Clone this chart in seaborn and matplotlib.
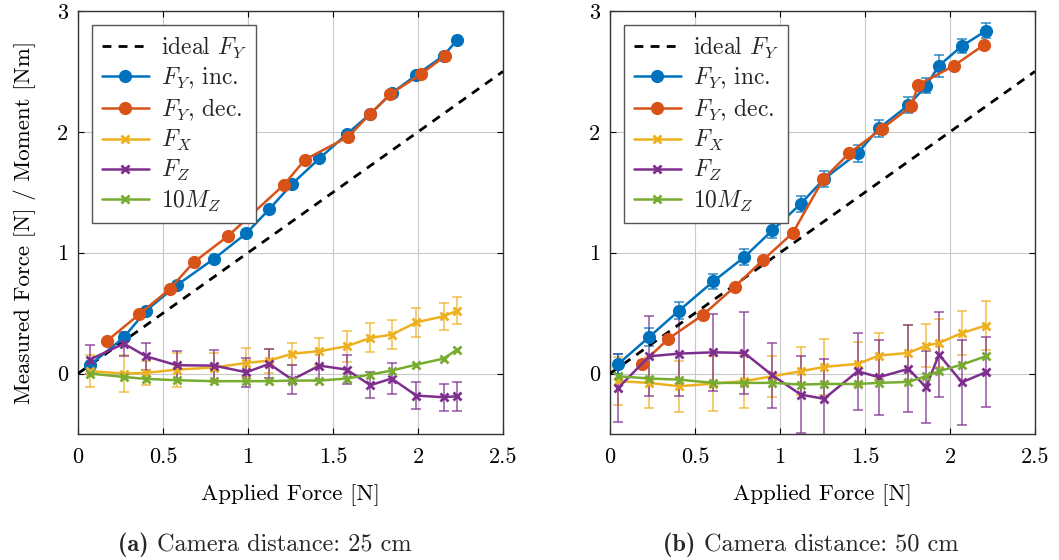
import numpy as np
import pandas as pd
import matplotlib
matplotlib.use("Agg")
import matplotlib.pyplot as plt
import seaborn as sns

# ---------------- data ----------------
# Panel (a): camera distance 25 cm
a_x = [0.07, 0.27, 0.40, 0.58, 0.80, 0.99, 1.125, 1.26, 1.42, 1.58, 1.72, 1.845, 1.99, 2.15, 2.23]
a_fy_inc = [0.07, 0.30, 0.52, 0.73, 0.95, 1.16, 1.36, 1.57, 1.78, 1.98, 2.15, 2.32, 2.47, 2.63, 2.76]
a_dec_x = [0.17, 0.36, 0.54, 0.68, 0.88, 1.21, 1.335, 1.59, 1.72, 1.835, 2.02, 2.16]
a_fy_dec = [0.27, 0.49, 0.70, 0.92, 1.135, 1.56, 1.77, 1.96, 2.15, 2.31, 2.48, 2.63]
a_fx = [0.02, 0.00, 0.005, 0.033, 0.05, 0.088, 0.107, 0.165, 0.185, 0.226, 0.295, 0.322, 0.424, 0.474, 0.52]
a_fx_err = [0.13, 0.15, 0.10, 0.14, 0.12, 0.12, 0.10, 0.09, 0.11, 0.13, 0.12, 0.12, 0.12, 0.11, 0.11]
a_fz = [0.116, 0.248, 0.143, 0.069, 0.066, 0.011, 0.08, -0.05, 0.066, 0.033, -0.096, -0.041, -0.182, -0.196, -0.187]
a_fz_err = [0.12, 0.10, 0.11, 0.12, 0.13, 0.12, 0.12, 0.12, 0.12, 0.12, 0.11, 0.13, 0.11, 0.11, 0.12]
a_mz = [0.0, -0.028, -0.044, -0.055, -0.063, -0.063, -0.063, -0.058, -0.058, -0.041, -0.008, 0.025, 0.074, 0.124, 0.198]

# Panel (b): camera distance 50 cm
b_x = [0.049, 0.231, 0.406, 0.608, 0.79, 0.955, 1.122, 1.259, 1.457, 1.582, 1.755, 1.859, 1.935, 2.07, 2.21]
b_fy_inc = [0.08, 0.303, 0.521, 0.763, 0.964, 1.185, 1.405, 1.61, 1.824, 2.03, 2.22, 2.38, 2.548, 2.71, 2.835]
b_fy_inc_err = [0.08, 0.072, 0.073, 0.063, 0.065, 0.065, 0.065, 0.065, 0.07, 0.069, 0.066, 0.062, 0.09, 0.058, 0.062]
b_dec_x = [0.186, 0.343, 0.549, 0.735, 0.902, 1.075, 1.255, 1.408, 1.598, 1.771, 1.814, 2.024, 2.20]
b_fy_dec = [0.08, 0.287, 0.488, 0.72, 0.942, 1.163, 1.61, 1.824, 2.025, 2.21, 2.39, 2.548, 2.72]
b_fx = [-0.063, -0.077, -0.105, -0.083, -0.063, -0.022, 0.019, 0.055, 0.08, 0.149, 0.171, 0.231, 0.253, 0.336, 0.397]
b_fx_err = [0.20, 0.21, 0.21, 0.23, 0.22, 0.17, 0.20, 0.23, 0.18, 0.19, 0.23, 0.18, 0.20, 0.18, 0.20]
b_fz = [-0.118, 0.143, 0.165, 0.176, 0.171, -0.014, -0.174, -0.209, 0.019, -0.03, 0.039, -0.113, 0.157, -0.072, 0.011]
b_fz_err = [0.28, 0.33, 0.35, 0.32, 0.34, 0.27, 0.32, 0.33, 0.32, 0.31, 0.36, 0.30, 0.35, 0.35, 0.29]
b_mz = [-0.022, -0.041, -0.05, -0.077, -0.077, -0.077, -0.091, -0.086, -0.086, -0.077, -0.069, -0.022, 0.019, 0.074, 0.143]

ideal_x = [0.0, 2.5]
ideal_y = [0.0, 2.5]

x_ticks = [0, 0.5, 1, 1.5, 2, 2.5]
x_tick_labels = ["0", "0.5", "1", "1.5", "2", "2.5"]
y_ticks = [0, 1, 2, 3]
y_tick_labels = ["0", "1", "2", "3"]

captions = [("(a)", "Camera distance: 25 cm"), ("(b)", "Camera distance: 50 cm")]

# ---------------- style ----------------
sns.set_theme(style="whitegrid")
plt.rcParams["font.family"] = ["cmr10", "DejaVu Serif"]
plt.rcParams["mathtext.fontset"] = "cm"
plt.rcParams["axes.unicode_minus"] = False
plt.rcParams["axes.formatter.use_mathtext"] = True

C_BLUE = "#0072BD"
C_ORANGE = "#D95319"
C_YELLOW = "#EDB120"
C_PURPLE = "#7E2F8E"
C_GREEN = "#77AC30"
FS_TICK = 16
FS_LAB = 16.5
FS_LEG = 17
FS_CAP = 17.5

fig = plt.figure(figsize=(10.59, 5.60), dpi=100)
W, H = 1059, 560
ax_a = fig.add_axes([78 / W, (560 - 434) / H, 425 / W, 423 / H])
ax_b = fig.add_axes([610 / W, (560 - 434) / H, 425 / W, 423 / H])

panels = [
    dict(ax=ax_a, x=a_x, inc=a_fy_inc, inc_err=None, dx=a_dec_x, dec=a_fy_dec,
         fx=a_fx, fx_err=a_fx_err, fz=a_fz, fz_err=a_fz_err, mz=a_mz),
    dict(ax=ax_b, x=b_x, inc=b_fy_inc, inc_err=b_fy_inc_err, dx=b_dec_x, dec=b_fy_dec,
         fx=b_fx, fx_err=b_fx_err, fz=b_fz, fz_err=b_fz_err, mz=b_mz),
]

for i, p in enumerate(panels):
    ax = p["ax"]
    eb_kw = dict(fmt="none", capsize=3.5, elinewidth=1.2, capthick=1.2, alpha=0.75, zorder=2)
    ax.errorbar(p["x"], p["fx"], yerr=p["fx_err"], ecolor=C_YELLOW, **eb_kw)
    ax.errorbar(p["x"], p["fz"], yerr=p["fz_err"], ecolor=C_PURPLE, **eb_kw)
    if p["inc_err"] is not None:
        ax.errorbar(p["x"], p["inc"], yerr=p["inc_err"], ecolor=C_BLUE, **eb_kw)

    sns.lineplot(x=ideal_x, y=ideal_y, ax=ax, color="black", linestyle=(0, (3.2, 2.6)),
                 linewidth=2.0, label=r"ideal $F_Y$", zorder=3)
    circ = dict(marker="o", markersize=9.5, markeredgewidth=0, linewidth=1.8, sort=False, zorder=4)
    sns.lineplot(x=p["x"], y=p["inc"], ax=ax, color=C_BLUE, markeredgecolor=C_BLUE,
                 label=r"$F_Y$, inc.", **circ)
    sns.lineplot(x=p["dx"], y=p["dec"], ax=ax, color=C_ORANGE, markeredgecolor=C_ORANGE,
                 label=r"$F_Y$, dec.", **circ)
    cross = dict(marker="x", markersize=6, markeredgewidth=2.0, linewidth=1.8, sort=False, zorder=5)
    sns.lineplot(x=p["x"], y=p["fx"], ax=ax, color=C_YELLOW, markeredgecolor=C_YELLOW,
                 label=r"$F_X$", **cross)
    sns.lineplot(x=p["x"], y=p["fz"], ax=ax, color=C_PURPLE, markeredgecolor=C_PURPLE,
                 label=r"$F_Z$", **cross)
    sns.lineplot(x=p["x"], y=p["mz"], ax=ax, color=C_GREEN, markeredgecolor=C_GREEN,
                 label=r"$10M_Z$", **cross)

    ax.set_xlim(0, 2.5)
    ax.set_ylim(-0.5, 3)
    ax.set_xticks(x_ticks)
    ax.set_xticklabels(x_tick_labels)
    ax.set_yticks(y_ticks)
    ax.set_yticklabels(y_tick_labels)
    ax.tick_params(axis="both", direction="in", length=4, width=0.8, color="black",
                   top=True, right=True, bottom=True, left=True, labelsize=FS_TICK,
                   labelcolor="black")
    ax.tick_params(axis="x", pad=10)
    ax.tick_params(axis="y", pad=7)
    ax.grid(True, color="#c8c8c8", linewidth=0.8)
    ax.set_facecolor("white")
    for s in ax.spines.values():
        s.set_edgecolor("#333333")
        s.set_linewidth(1.0)
    ax.set_xlabel("Applied Force [N]", fontsize=FS_LAB, color="black", labelpad=12)
    if i == 0:
        ax.set_ylabel("Measured Force [N] / Moment [Nm]", fontsize=FS_LAB, color="black")
        ax.yaxis.set_label_coords(-0.098, 0.5)
    else:
        ax.set_ylabel("")

    leg = ax.legend(loc="upper left", fontsize=FS_LEG, frameon=True, fancybox=False,
                    edgecolor="#555555", framealpha=1.0, borderaxespad=0.6,
                    handlelength=2.0, handletextpad=0.5, labelspacing=0.22,
                    borderpad=0.4)
    leg.get_frame().set_linewidth(1.0)
    leg.set_zorder(10)

# captions
cap_centers = [265, 811]
for (lab, txt), cx in zip(captions, cap_centers):
    t1 = fig.text(0, 0, lab + " ", fontsize=FS_CAP, family="cmb10")
    t2 = fig.text(0, 0, txt, fontsize=FS_CAP, family="cmr10")
    fig.canvas.draw()
    r = fig.canvas.get_renderer()
    w1 = t1.get_window_extent(r).width
    w2 = t2.get_window_extent(r).width
    start = cx - (w1 + w2) / 2
    y = 1 - 551 / H
    t1.set_position((start / W, y))
    t2.set_position(((start + w1) / W, y))

fig.savefig("out.png", dpi=100)
